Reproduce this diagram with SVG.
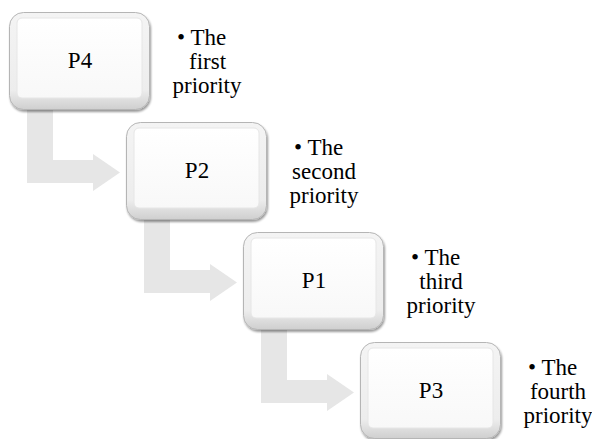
<svg xmlns="http://www.w3.org/2000/svg" width="592" height="439" viewBox="0 0 592 439">
<defs>
<linearGradient id="outer" x1="0" y1="0" x2="0" y2="1">
<stop offset="0" stop-color="#f4f4f4"/>
<stop offset="0.8" stop-color="#ededed"/>
<stop offset="1" stop-color="#cfcfcf"/>
</linearGradient>
<linearGradient id="inner" x1="0" y1="0" x2="0" y2="1">
<stop offset="0" stop-color="#ffffff"/>
<stop offset="1" stop-color="#f8f8f8"/>
</linearGradient>
<filter id="sh" x="-10%" y="-10%" width="130%" height="130%">
<feDropShadow dx="1" dy="2" stdDeviation="1.2" flood-color="#000" flood-opacity="0.4"/>
</filter>
<path id="arrow" d="M27,100 L53,100 L53,160 L93,160 L93,154 L120,172.5 L93,191 L93,183 L27,183 Z"/>
</defs>
<style>
.arr{fill:#e6e6e6}
.box{fill:url(#outer);stroke:#b5b5b5;stroke-width:1;filter:url(#sh)}
.face{fill:url(#inner);stroke:#e6e6e6;stroke-width:1}
.lbl{font-size:23px;fill:#000;text-anchor:middle}
</style>
<g id="connectors">
<use href="#arrow" class="arr"/>
<use href="#arrow" class="arr" transform="translate(117,110)"/>
<use href="#arrow" class="arr" transform="translate(234,220)"/>
</g>
<g font-family="'Liberation Serif', 'Times New Roman', serif">
<g id="node-p4">
<rect class="box" x="9.5" y="12.5" width="140" height="97" rx="14"/>
<rect class="face" x="17" y="18" width="125" height="80" rx="5"/>
<text class="lbl" x="80" y="68">P4</text>
<text class="lbl" x="201.7" y="45">• The</text>
<text class="lbl" x="207.5" y="69">first</text>
<text class="lbl" x="207" y="93">priority</text>
</g>
<g id="node-p2" transform="translate(117,110)">
<rect class="box" x="9.5" y="12.5" width="140" height="97" rx="14"/>
<rect class="face" x="17" y="18" width="125" height="80" rx="5"/>
<text class="lbl" x="80" y="68">P2</text>
<text class="lbl" x="201.7" y="45">• The</text>
<text class="lbl" x="207" y="69">second</text>
<text class="lbl" x="207" y="93">priority</text>
</g>
<g id="node-p1" transform="translate(234,220)">
<rect class="box" x="9.5" y="12.5" width="140" height="97" rx="14"/>
<rect class="face" x="17" y="18" width="125" height="80" rx="5"/>
<text class="lbl" x="80" y="68">P1</text>
<text class="lbl" x="201.7" y="45">• The</text>
<text class="lbl" x="207" y="69">third</text>
<text class="lbl" x="207" y="93">priority</text>
</g>
<g id="node-p3" transform="translate(351,330)">
<rect class="box" x="9.5" y="12.5" width="140" height="96" rx="14"/>
<rect class="face" x="17" y="18" width="125" height="80" rx="5"/>
<text class="lbl" x="80" y="68">P3</text>
<text class="lbl" x="201.7" y="45">• The</text>
<text class="lbl" x="207" y="69">fourth</text>
<text class="lbl" x="207" y="93">priority</text>
</g>
</g>
</svg>
